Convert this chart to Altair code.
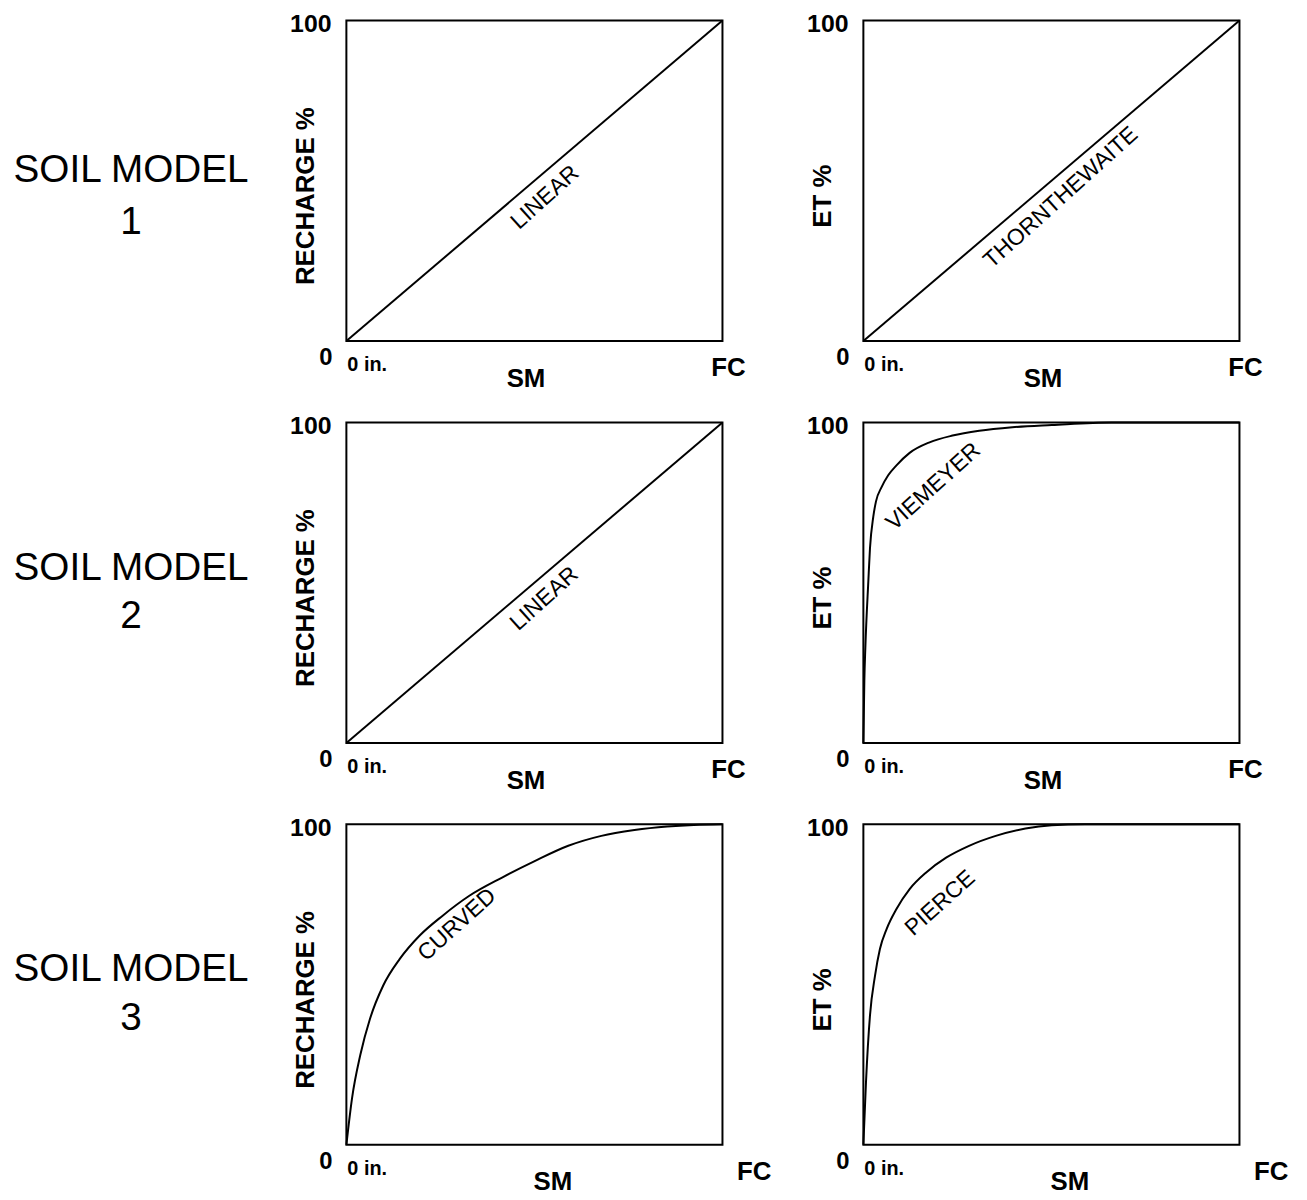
import altair as alt
import pandas as pd

FONT = "Liberation Sans"

# ---- text content ----
ROW_TITLES = [["SOIL MODEL", "1"], ["SOIL MODEL", "2"], ["SOIL MODEL", "3"]]
Y_TITLES = ["RECHARGE %", "ET %"]
X_TITLE = "SM"
Y_TICKS = ["0", "100"]
X_TICKS = ["0 in.", "FC"]
CURVE_NAMES = [["LINEAR", "THORNTHEWAITE"], ["LINEAR", "VIEMEYER"], ["CURVED", "PIERCE"]]

# ---- curve values (x: fraction of field capacity, y: percent) ----
LINEAR_X = [0, 1]
LINEAR_Y = [0, 100]

THORN_X = [0, 1]
THORN_Y = [0, 100]

VIEMEYER_X = [0, 0.0026, 0.0053, 0.0132, 0.0176, 0.0264, 0.0334, 0.0484, 0.066, 0.088,
              0.123, 0.176, 0.237, 0.308, 0.396, 0.501, 0.66, 1.0]
VIEMEYER_Y = [0, 19.6, 29.9, 50.5, 60.8, 70.6, 75.3, 79.8, 83.5, 86.6,
              90.5, 93.8, 95.9, 97.4, 98.5, 99.2, 100, 100]

CURVED_X = [0, 0.015, 0.037, 0.063, 0.098, 0.142, 0.195, 0.256, 0.327, 0.414, 0.502,
            0.59, 0.678, 0.766, 0.853, 0.924, 1.0]
CURVED_Y = [0, 14.5, 28.0, 39.4, 49.7, 58.0, 65.3, 71.5, 77.7, 83.4, 88.6,
            93.3, 96.4, 98.2, 99.3, 99.8, 100]

PIERCE_X = [0, 0.007, 0.0176, 0.031, 0.044, 0.062, 0.088, 0.123, 0.167, 0.22, 0.281,
            0.352, 0.431, 0.501, 0.589, 1.0]
PIERCE_Y = [0, 19.7, 40.4, 52.8, 61.1, 67.4, 73.6, 79.8, 85.0, 89.6, 93.3,
            96.4, 98.7, 99.7, 100, 100]

CURVES = [[(LINEAR_X, LINEAR_Y), (THORN_X, THORN_Y)],
          [(LINEAR_X, LINEAR_Y), (VIEMEYER_X, VIEMEYER_Y)],
          [(CURVED_X, CURVED_Y), (PIERCE_X, PIERCE_Y)]]

# ---- layout (positions of annotation text, in data space of each panel) ----
NAME_POS = [[(0.528, 44.8), (0.525, 44.8)],
            [(0.526, 45.0), (0.186, 80.0)],
            [(0.294, 68.7), (0.204, 75.4)]]
SM_DX = [181, 181, 208]
FC_DX = [385, 385, 411]
LABEL_W = 199
LABEL_Y = [(151, 203), (147, 195), (146, 195)]

W, H = 379, 323
XS = alt.Scale(domain=[0, 1], nice=False, zero=False)
YS = alt.Scale(domain=[0, 100], nice=False, zero=False)


def xy():
    return dict(x=alt.X("x:Q", scale=XS, axis=None),
                y=alt.Y("y:Q", scale=YS, axis=None))


def txt(x, y, t, **kw):
    return alt.Chart(pd.DataFrame({"x": [x], "y": [y], "t": [t]})).mark_text(
        font=FONT, color="black", **kw).encode(**xy(), text="t:N")


def panel(xs, ys, name, name_pos, ytitle, sm_dx, fc_dx):
    box = alt.Chart(pd.DataFrame({"x": [0], "x2": [1], "y": [0], "y2": [100]})).mark_rect(
        fillOpacity=0, stroke="black", strokeWidth=2).encode(**xy(), x2="x2:Q", y2="y2:Q")
    curve = alt.Chart(pd.DataFrame({"x": xs, "y": ys})).mark_line(
        color="black", strokeWidth=2, interpolate="monotone").encode(**xy())
    layers = [
        box,
        curve,
        txt(name_pos[0], name_pos[1], name, angle=318, fontSize=23,
            align="center", baseline="middle"),
        txt(0, 100, Y_TICKS[1], fontSize=25, fontWeight="bold", align="right",
            baseline="middle", dx=-15, dy=4),
        txt(0, 0, Y_TICKS[0], fontSize=24, fontWeight="bold", align="right",
            baseline="middle", dx=-14, dy=17),
        txt(0, 0, X_TICKS[0], fontSize=20, fontWeight="bold", align="left",
            baseline="middle", dx=1, dy=24),
        txt(0, 0, X_TICKS[1], fontSize=26, fontWeight="bold", align="center",
            baseline="middle", dx=fc_dx, dy=27),
        txt(0, 0, X_TITLE, fontSize=26, fontWeight="bold", align="center",
            baseline="middle", dx=sm_dx, dy=38),
        txt(-41 / W, (H - 177) / H * 100, ytitle, angle=270, fontSize=26,
            fontWeight="bold", align="center", baseline="middle"),
    ]
    return alt.layer(*layers).properties(width=W, height=H)


def row_label(lines, ys):
    parts = []
    for line, yy in zip(lines, ys):
        parts.append(alt.Chart(pd.DataFrame({"t": [line]})).mark_text(
            font=FONT, fontSize=39, color="black", align="center", baseline="middle"
        ).encode(x=alt.value(124), y=alt.value(yy), text="t:N"))
    return alt.layer(*parts).properties(width=LABEL_W, height=H)


cells = []
for r in range(3):
    cells.append(row_label(ROW_TITLES[r], LABEL_Y[r]))
    for c in range(2):
        xs, ys = CURVES[r][c]
        cells.append(panel(xs, ys, CURVE_NAMES[r][c], NAME_POS[r][c], Y_TITLES[c],
                           SM_DX[r], FC_DX[r]))

chart = alt.concat(*cells, columns=3, spacing={"row": 82, "column": 142},
                   bounds="flush").properties(
    padding={"left": 0, "top": 0, "right": 10, "bottom": 5},
    background="white",
).configure_view(strokeWidth=0)

chart.save("out.html", embed_options={"renderer": "svg", "actions": False})
